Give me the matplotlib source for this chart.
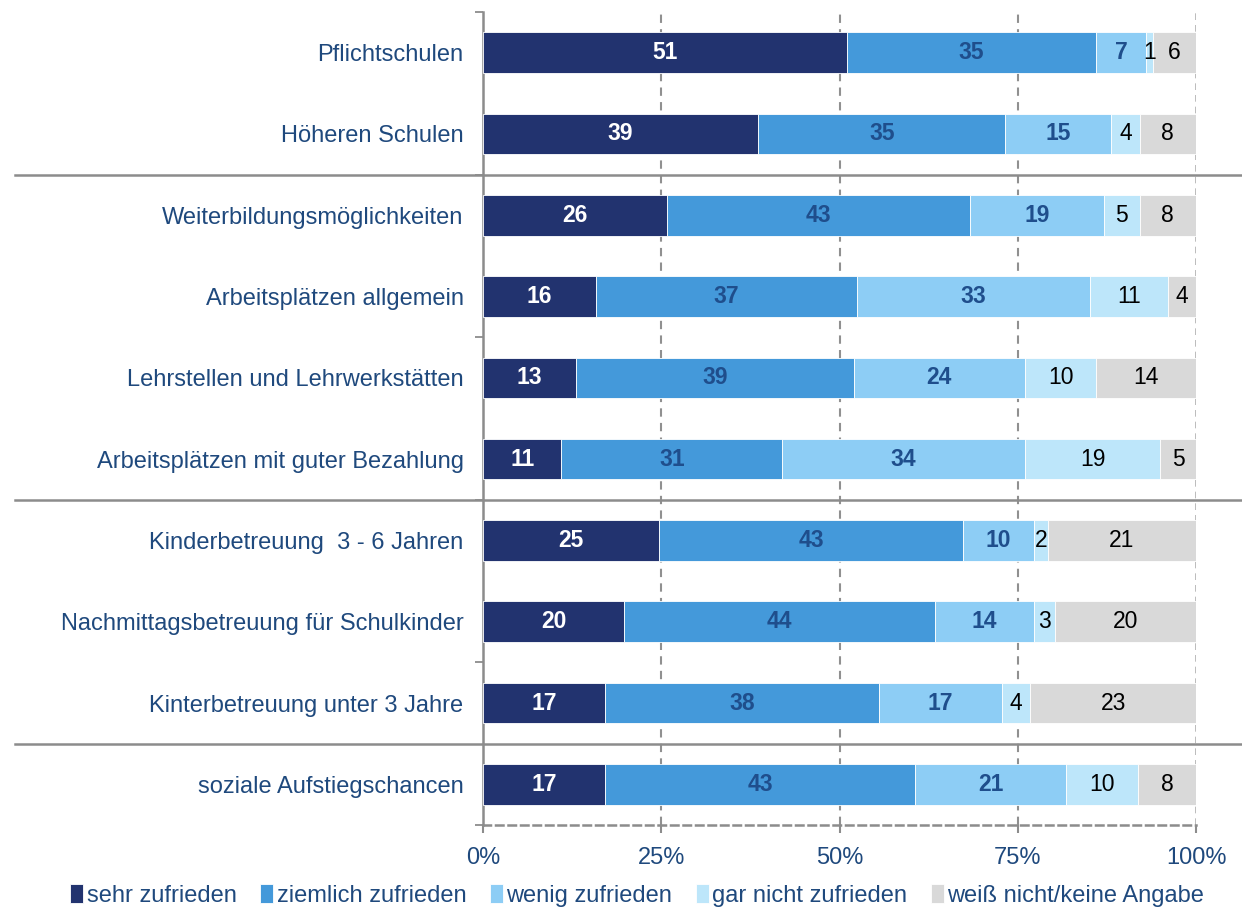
import numpy as np
import matplotlib.pyplot as plt
from matplotlib.lines import Line2D

plt.rcParams['font.family'] = ['Liberation Sans', 'DejaVu Sans']

categories = [
    'Pflichtschulen',
    'Höheren Schulen',
    'Weiterbildungsmöglichkeiten',
    'Arbeitsplätzen allgemein',
    'Lehrstellen und Lehrwerkstätten',
    'Arbeitsplätzen mit guter Bezahlung',
    'Kinderbetreuung  3 - 6 Jahren',
    'Nachmittagsbetreuung für Schulkinder',
    'Kinterbetreuung unter 3 Jahre',
    'soziale Aufstiegschancen',
]
series = ['sehr zufrieden', 'ziemlich zufrieden', 'wenig zufrieden',
          'gar nicht zufrieden', 'weiß nicht/keine Angabe']
sehr = [51, 39, 26, 16, 13, 11, 25, 20, 17, 17]
ziemlich = [35, 35, 43, 37, 39, 31, 43, 44, 38, 43]
wenig = [7, 15, 19, 33, 24, 34, 10, 14, 17, 21]
gar_nicht = [1, 4, 5, 11, 10, 19, 2, 3, 4, 10]
weiss_nicht = [6, 8, 8, 4, 14, 5, 21, 20, 23, 8]

colors = ['#22336F', '#4499DA', '#8DCDF5', '#BDE6FA', '#D9D9D9']
label_colors = ['white', '#1F4E8C', '#1F4E8C', 'black', 'black']
label_weights = ['bold', 'bold', 'bold', 'normal', 'normal']
text_blue = '#1F497D'

data = np.array([sehr, ziemlich, wenig, gar_nicht, weiss_nicht], dtype=float)
shares = data / data.sum(axis=0) * 100

fig = plt.figure(figsize=(12.42, 9.09), dpi=100)
ax = fig.add_axes([483 / 1242, 1 - 825 / 909, 713 / 1242, 813 / 909])

y = np.arange(len(categories))
left = np.zeros(len(categories))
for i, name in enumerate(series):
    ax.barh(y, shares[i], left=left, height=0.5, color=colors[i],
            edgecolor='white', linewidth=0.6, label=name, zorder=3)
    for j in range(len(categories)):
        ax.text(left[j] + shares[i][j] / 2, y[j], f'{int(data[i][j])}',
                ha='center', va='center', fontsize=16.5,
                color=label_colors[i], fontweight=label_weights[i], zorder=4)
    left += shares[i]

ax.set_xlim(0, 100)
ax.set_ylim(len(categories) - 0.5, -0.5)

# gridlines
for xv in [25, 50, 75]:
    ax.axvline(xv, color='#909090', linestyle=(0, (4, 3)), linewidth=1.5, zorder=1)
ax.axvline(100, color='#B0B0B0', linestyle=(0, (4, 3)), linewidth=1.2, zorder=1)

for s in ['top', 'right']:
    ax.spines[s].set_visible(False)
ax.spines['left'].set_color('#8C8C8C')
ax.spines['left'].set_linewidth(1.8)
ax.spines['bottom'].set_color('#8C8C8C')
ax.spines['bottom'].set_linewidth(1.8)
ax.spines['bottom'].set_linestyle((0, (3, 2)))

ax.set_xticks([0, 25, 50, 75, 100])
ax.set_xticklabels(['0%', '25%', '50%', '75%', '100%'])
ax.tick_params(axis='x', direction='out', length=6, width=1.5, color='#8C8C8C',
               labelsize=17, labelcolor=text_blue, pad=10)

# tick marks every second category boundary, labels at the centres
ax.set_yticks(np.arange(-0.5, len(categories), 2), minor=False)
ax.set_yticklabels([])
ax.tick_params(axis='y', which='major', direction='out', length=6, width=1.3,
               color='#8C8C8C')
ax.set_yticks(y, minor=True)
ax.set_yticklabels(categories, minor=True)
ax.tick_params(axis='y', which='minor', length=0, labelsize=17,
               labelcolor=text_blue, pad=14)

# group separators across the figure
for boundary in [1.5, 5.5, 8.5]:
    yf = ax.transData.transform((0, boundary))[1] / fig.bbox.height
    fig.add_artist(Line2D([15 / 1242, 1], [yf, yf], color='#8C8C8C', linewidth=1.8))

ax.legend(loc='center', bbox_to_anchor=(0.513, 0.015), bbox_transform=fig.transFigure,
          ncol=5, frameon=False, fontsize=17, labelcolor=text_blue,
          handlelength=0.55, handleheight=0.9, handletextpad=0.15,
          columnspacing=1.0, borderpad=0)

plt.savefig('out.png', dpi=100)
